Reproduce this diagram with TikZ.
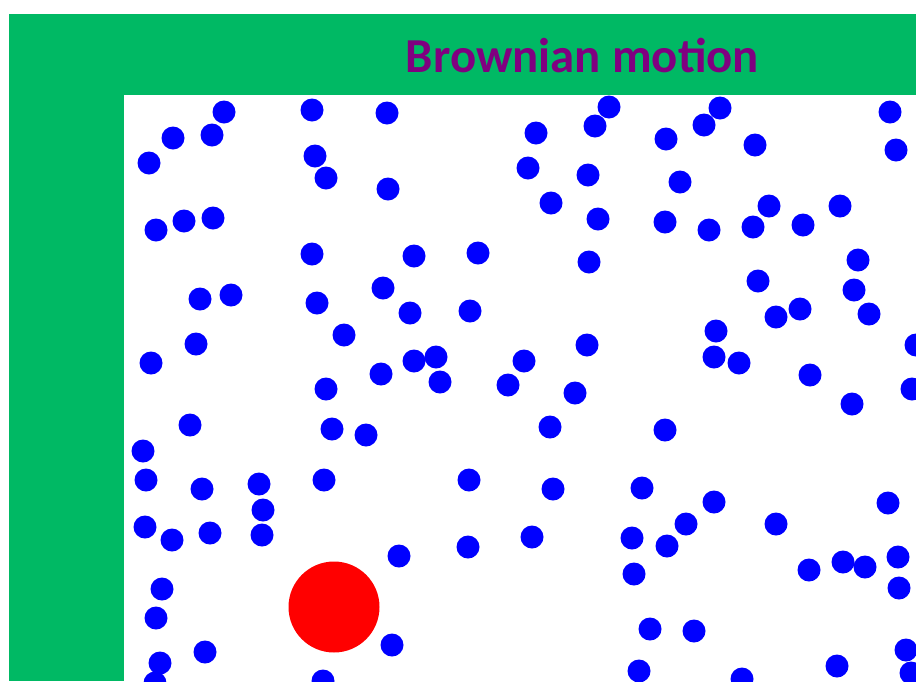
\documentclass[tikz,border=0pt]{standalone}
\usepackage{fontspec}
\newfontfamily\titlefont{Carlito}
\definecolor{framegreen}{RGB}{0,185,100}
\definecolor{titlepurple}{RGB}{128,0,128}
\definecolor{dotblue}{RGB}{0,0,255}
\definecolor{bigred}{RGB}{255,0,0}
\begin{document}
\begin{tikzpicture}[x=1pt,y=-1pt,
  particle/.style={fill=dotblue},
  bigparticle/.style={fill=bigred},
  titletext/.style={font=\titlefont\bfseries\fontsize{48.8}{58}\selectfont, text=titlepurple, inner sep=0pt, anchor=base}]
\useasboundingbox (0,0) rectangle (916,681);
\fill[white] (0,0) rectangle (916,681);
\fill[framegreen] (9,14) rectangle (916,681);
\fill[white] (124,95) rectangle (916,681);
\node[titletext] (title) at (582.5,72) {Brownian motion};
\begin{scope}
\clip (124,95) rectangle (916,681);
\foreach \px/\py in {
224/112, 312/110, 387/113, 609/107, 720/108, 890/112,
173/138, 212/135, 149/163, 315/156, 536/133, 595/126, 704/125, 666/139, 755/145, 896/150,
326/178, 388/189, 528/168, 588/175, 680/182,
551/203, 598/219, 665/222, 709/230, 753/227, 769/206, 803/225, 840/206, 156/230, 184/221, 213/218,
312/254, 414/256, 478/253, 589/262, 858/260,
758/281, 854/290, 800/309, 776/317, 869/314, 200/299, 231/295, 317/303, 383/288, 410/313, 470/311,
716/331, 344/335, 196/344, 587/345, 916/345,
151/363, 414/361, 436/357, 381/374, 440/382, 326/389, 524/361, 508/385, 575/393, 714/357, 739/363, 810/375, 912/389,
852/404, 190/425, 332/429, 366/435, 550/427, 665/430,
143/451, 146/480, 202/489, 259/484, 324/480, 469/480, 553/489, 642/488, 714/502, 888/503,
263/510, 145/527, 172/540, 210/533, 262/535, 532/537, 632/538, 667/546, 686/524, 776/524, 468/547, 399/556,
898/557, 843/562, 865/567, 809/570, 634/574, 162/589, 899/588,
156/618, 392/645, 205/652, 160/663, 650/629, 694/631, 906/650, 639/671, 837/666, 742/679, 911/673, 155/683, 323/681}
  \fill[particle] (\px,\py) circle[radius=11.5];
\fill[bigparticle] (334,607) circle[radius=45.5];
\end{scope}
\end{tikzpicture}
\end{document}
